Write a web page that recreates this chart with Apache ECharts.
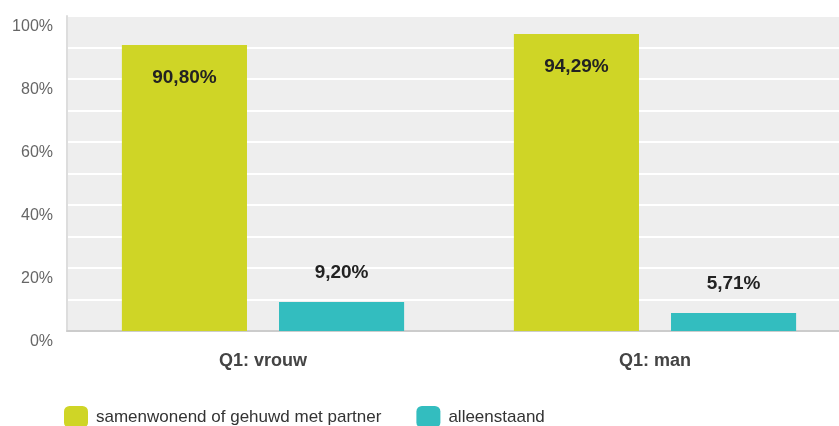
<!DOCTYPE html>
<html>
<head>
<meta charset="utf-8">
<script src="https://cdn.jsdelivr.net/npm/echarts@6/dist/echarts.min.js"></script>
<style>
  html, body { margin: 0; padding: 0; background: #fff; }
  #chart { width: 839px; height: 426px; }
</style>
</head>
<body>
<div id="chart"></div>
<script>
var categories = ['Q1: vrouw', 'Q1: man'];
var seriesNames = ['samenwonend of gehuwd met partner', 'alleenstaand'];
var samenwonend = [90.80, 94.29];
var alleenstaand = [9.20, 5.71];

function pct(v) {
    return v.toFixed(2).replace('.', ',') + '%';
}

var chart = echarts.init(document.getElementById('chart'));
var option = {
    backgroundColor: '#ffffff',
    animation: false,
    textStyle: { fontFamily: 'Liberation Sans, Arial, sans-serif' },
    grid: {
        left: 67,
        top: 16,
        width: 784,
        bottom: 95,
        outerBoundsMode: 'none',
        show: true,
        backgroundColor: '#eeeeee',
        borderWidth: 0
    },
    legend: {
        data: seriesNames,
        left: 59,
        top: 401,
        icon: 'roundRect',
        itemWidth: 24,
        itemHeight: 22,
        itemGap: 35,
        textStyle: { fontSize: 17, color: '#333', padding: [0, 0, 0, 3] }
    },
    xAxis: {
        type: 'category',
        data: categories,
        axisLine: { lineStyle: { color: '#cccccc', width: 2 } },
        axisTick: { show: false },
        axisLabel: { color: '#444', fontWeight: 'bold', fontSize: 18, margin: 21 }
    },
    yAxis: {
        type: 'value',
        min: 0,
        max: 100,
        interval: 10,
        axisLine: { show: true, lineStyle: { color: '#dddddd', width: 2 } },
        axisTick: { show: false },
        splitLine: { lineStyle: { color: '#ffffff', width: 2 } },
        axisLabel: {
            color: '#666',
            fontSize: 16,
            margin: 14,
            verticalAlign: 'top',
            padding: [3, 0, 0, 0],
            formatter: function (v) { return v % 20 === 0 ? v + '%' : ''; }
        }
    },
    series: [
        {
            name: seriesNames[0],
            type: 'bar',
            data: samenwonend,
            barGap: '25.6%',
            barCategoryGap: '28%',
            itemStyle: { color: '#cfd526' },
            label: {
                show: true,
                position: 'insideTop',
                distance: 23,
                color: '#222',
                fontSize: 19,
                fontWeight: 'bold',
                formatter: function (p) { return pct(p.value); }
            }
        },
        {
            name: seriesNames[1],
            type: 'bar',
            data: alleenstaand,
            itemStyle: { color: '#33bdbf' },
            label: {
                show: true,
                position: 'top',
                distance: 20,
                color: '#222',
                fontSize: 19,
                fontWeight: 'bold',
                formatter: function (p) { return pct(p.value); }
            }
        }
    ]
};
chart.setOption(option);
</script>
</body>
</html>
